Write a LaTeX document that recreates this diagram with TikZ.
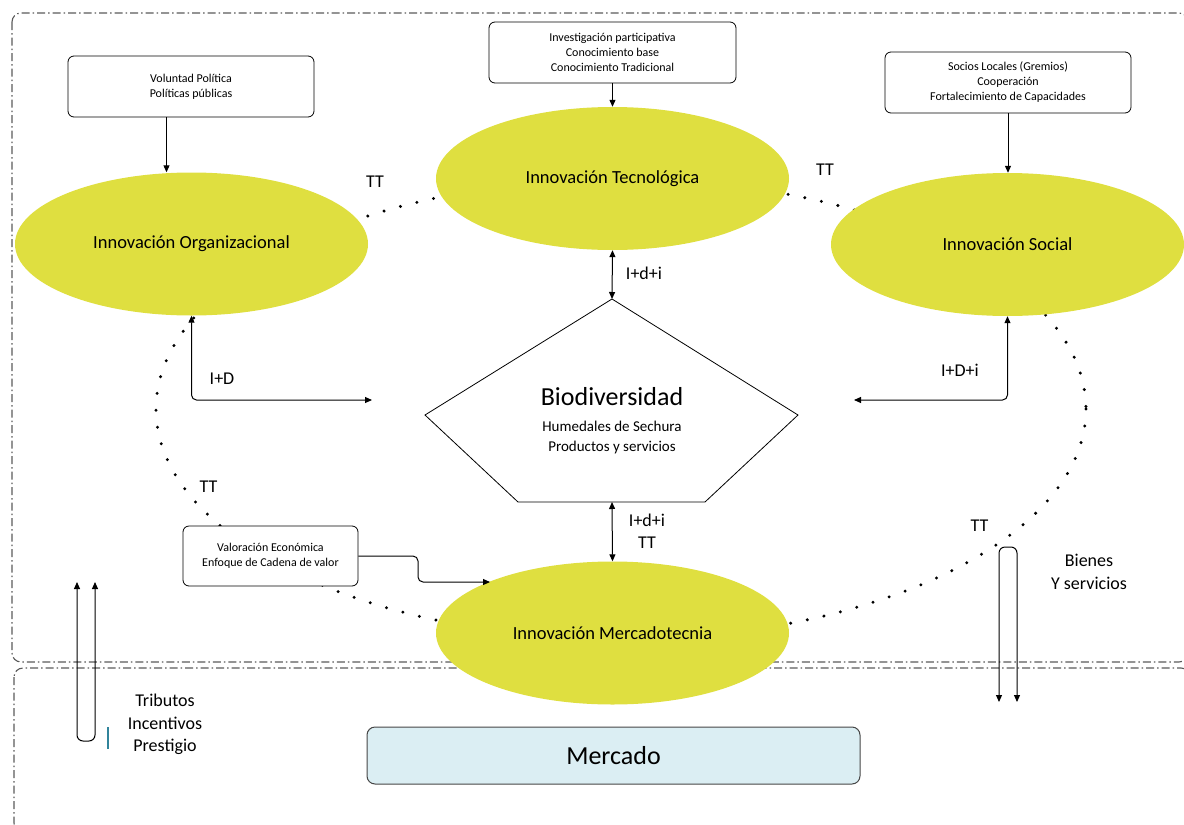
\documentclass[tikz,border=0pt]{standalone}
\usepackage{fontspec}
\setmainfont{Carlito}
\usetikzlibrary{shapes.geometric,arrows.meta}
\definecolor{ellfill}{RGB}{223,223,64}
\definecolor{framegray}{RGB}{90,90,90}
\definecolor{mercfill}{RGB}{219,238,243}
\definecolor{mercline}{RGB}{70,70,70}
\definecolor{tealmark}{RGB}{49,132,155}
\begin{document}
\begin{tikzpicture}[x=1pt,y=-1pt,
  innov/.style={ellipse, fill=ellfill, minimum width=353pt, minimum height=143pt, inner sep=0pt, font=\fontsize{18.5}{22}\selectfont},
  infobox/.style={draw, fill=white, rounded corners=6pt, align=center, inner sep=0pt, font=\fontsize{12}{15}\selectfont, line width=0.8pt},
  lbl/.style={font=\fontsize{18}{22.5}\selectfont, align=center, inner sep=0pt},
  arr/.style={line width=1pt, -{Triangle[length=7pt,width=6pt]}},
  darr/.style={line width=1pt, {Triangle[length=7pt,width=6pt]}-{Triangle[length=7pt,width=6pt]}},
  frame/.style={draw=framegray, line width=1.1pt, dash pattern=on 8pt off 3pt on 1.5pt off 3pt, rounded corners=9pt},
  dots/.style={line width=3.3pt, line cap=round, dash pattern=on 0pt off 17pt}
]
\useasboundingbox (0,0) rectangle (1184,825);
\begin{scope}
\clip (0,0) rectangle (1184,825);
\draw[frame] (12,13) rectangle (1188,662);
\draw[frame] (14,668) rectangle (1190,832);
\end{scope}

% dotted cycle
\draw[dots] (621,409) ellipse [x radius=465, y radius=230];

% innovation ellipses
\node[innov] (org) at (191.5,244) {Innovación Organizacional};
\node[innov] (tec) at (612.5,178.5) {Innovación Tecnológica};
\node[innov] (soc) at (1007.5,244.5) {Innovación Social};
\node[innov] (mer) at (612.5,633) {Innovación Mercadotecnia};

% info boxes
\node[infobox, minimum width=246pt, minimum height=61pt] (vol) at (191,86.5) {Voluntad Política\\Políticas públicas};
\node[infobox, minimum width=247pt, minimum height=61pt] (inv) at (612.5,52.5) {Investigación participativa\\Conocimiento base\\Conocimiento Tradicional};
\node[infobox, minimum width=246pt, minimum height=61pt] (socb) at (1008,82.5) {Socios Locales (Gremios)\\Cooperación\\Fortalecimiento de Capacidades};
\node[infobox, minimum width=175pt, minimum height=60pt] (val) at (270.5,556) {Valoración Económica\\Enfoque de Cadena de valor};

\draw[arr] ([xshift=-24.5pt]vol.south) -- ([xshift=-24.5pt]vol.south |- org.north);
\draw[arr] (inv.south) -- (tec.north);
\draw[arr] (socb.south) -- (socb.south |- soc.north);

% Biodiversidad pentagon
\coordinate (bioT) at (612,299);
\coordinate (bioR) at (798,415);
\coordinate (bioBR) at (705,502);
\coordinate (bioBL) at (518,502);
\coordinate (bioL) at (425,415);
\coordinate (bioB) at (612,502);
\draw[line width=0.8pt, fill=white] (bioT) -- (bioR) -- (bioBR) -- (bioBL) -- (bioL) -- cycle;
\node[inner sep=0pt, font=\fontsize{26}{30}\selectfont] (biot) at (612,397) {Biodiversidad};
\node[inner sep=0pt, align=center, font=\fontsize{15}{20}\selectfont] (bios) at (612,437) {Humedales de Sechura\\Productos y servicios};

\draw[darr] (tec.south) -- (bioT);
\draw[darr] (bioB) -- (mer.north);
\node[lbl] (l1) at (644,273) {I+d+i};
\node[lbl] (l2) at (647,520.5) {I+d+i};
\node[lbl] (l3) at (647,543) {TT};

% elbow connectors
\coordinate (idEnd) at (372,400);
\draw[darr, rounded corners=5pt] (org.south) -- (org.south |- idEnd) -- (idEnd);
\node[lbl] (lid) at (222,379) {I+D};
\coordinate (idiEnd) at (854,400);
\draw[darr, rounded corners=5pt] (soc.south) -- (soc.south |- idiEnd) -- (idiEnd);
\node[lbl] (lidi) at (960,370) {I+D+i};

\coordinate (valEnd) at (490,582);
\draw[arr, rounded corners=5pt] (val.east) -- (418,556) -- (418,582) -- (valEnd);

% TT labels on dotted cycle
\node[lbl] (tt1) at (375,182) {TT};
\node[lbl] (tt2) at (825,170) {TT};
\node[lbl] (tt3) at (208.5,487) {TT};
\node[lbl] (tt4) at (979.5,525.5) {TT};

% Mercado
\node[draw=mercline, line width=1pt, fill=mercfill, rounded corners=8pt, minimum width=493pt, minimum height=57pt, inner sep=0pt, font=\fontsize{26}{30}\selectfont] (mercado) at (613.5,755.5) {Mercado};

% Bienes y servicios bracket
\coordinate (bL) at (999,702);
\coordinate (bR) at (1017,702);
\draw[darr, rounded corners=6pt] (bL) -- (999,547) -- (1017,547) -- (bR);
\node[lbl] (bien) at (1089,572) {Bienes\\Y servicios};

% Tributos bracket
\coordinate (tL) at (77,582);
\coordinate (tR) at (95,582);
\draw[darr, rounded corners=6pt] (tL) -- (77,741) -- (95,741) -- (tR);
\node[lbl] (trib) at (165,724.5) {Tributos\\Incentivos\\Prestigio};
\draw[tealmark, line width=1.6pt] (108,727) -- (108,749);
\end{tikzpicture}
\end{document}
